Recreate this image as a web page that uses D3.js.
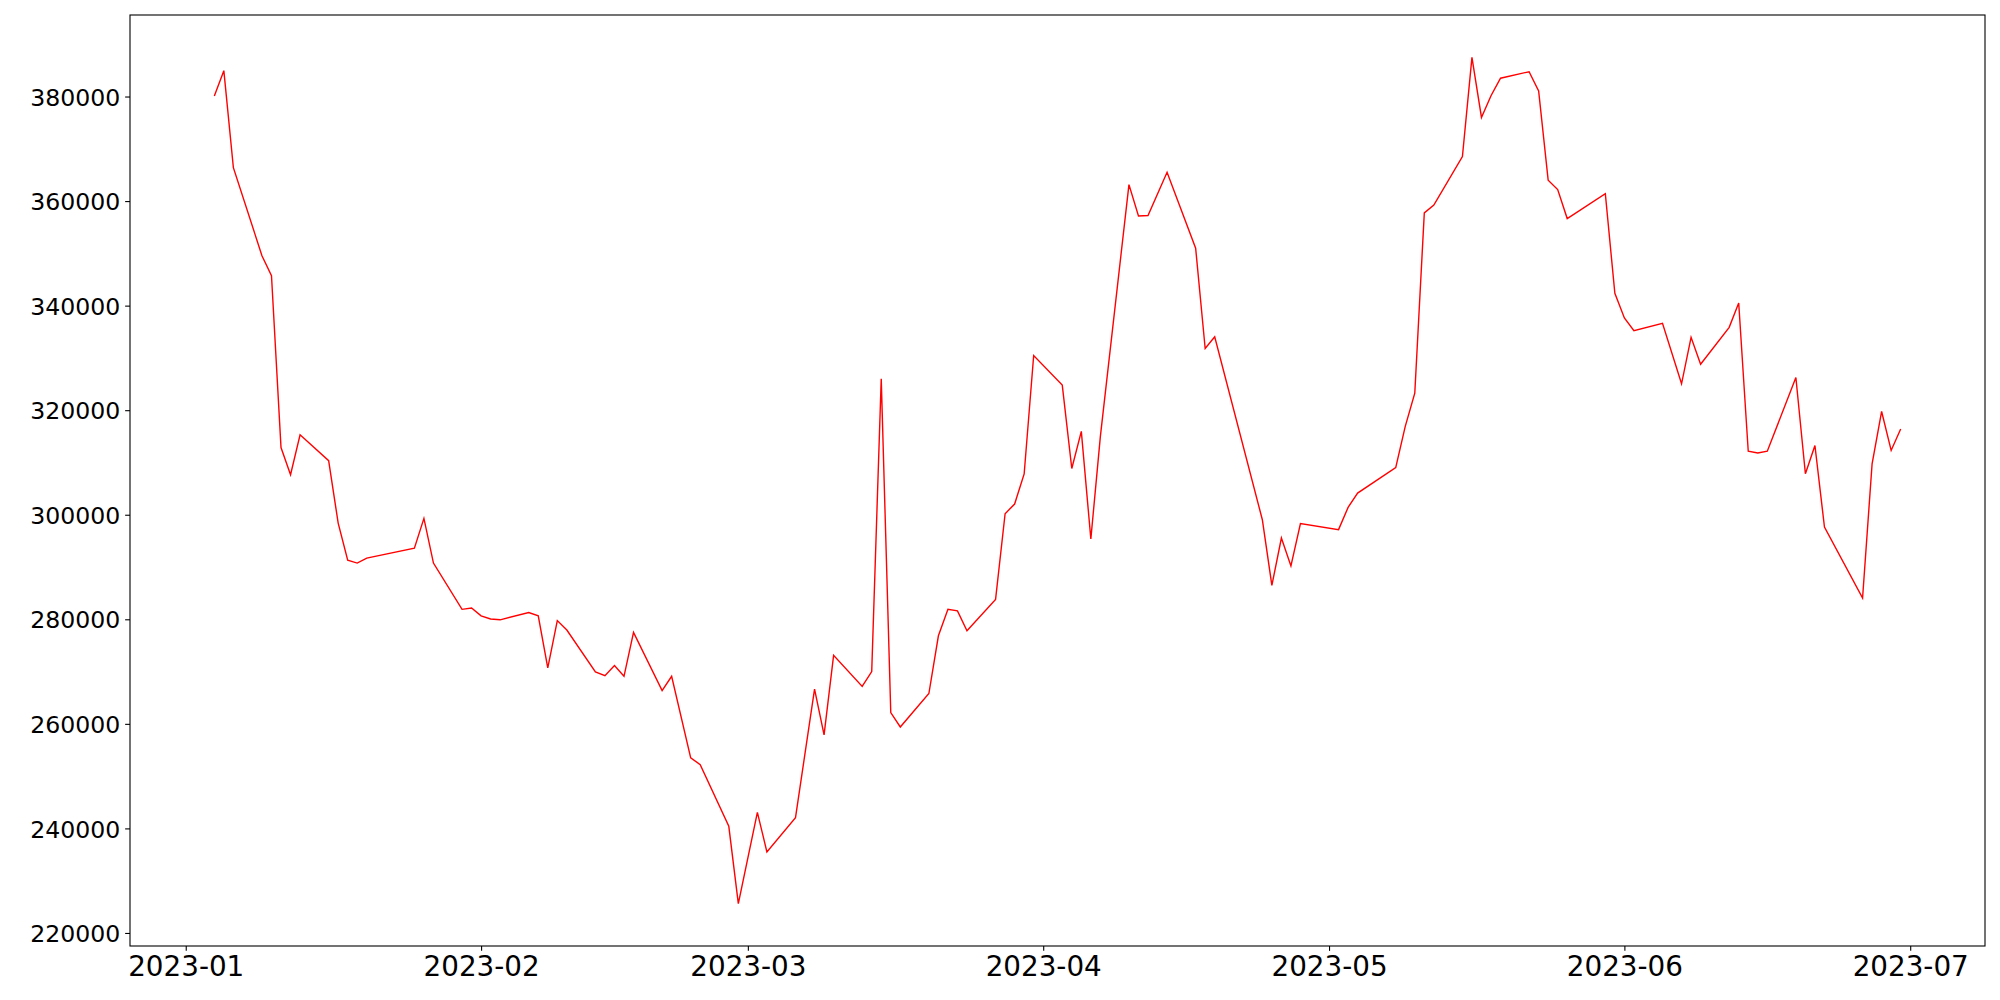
<!DOCTYPE html>
<html>
<head>
<meta charset="utf-8">
<script src="https://cdn.jsdelivr.net/npm/d3@7"></script>
<style>
    body { margin: 0; background: #fff; }
    text { font-family: "DejaVu Sans", sans-serif; }
</style>
</head>
<body>
<div id="chart"></div>
<script>
const width = 2000;
const height = 1000;
const margin = { top: 15, right: 15, bottom: 54, left: 130 };
const xFontSize = 27.8;
const yFontSize = 23.6;
const tickLen = 4.86;
const tickPad = 4.86;

// trading days (a few days are missing in the source)
const dates = [
    "2023-01-04", "2023-01-05", "2023-01-06", "2023-01-09", "2023-01-10", "2023-01-11", "2023-01-12", "2023-01-13",
    "2023-01-16", "2023-01-17", "2023-01-18", "2023-01-19", "2023-01-20", "2023-01-25", "2023-01-26", "2023-01-27",
    "2023-01-30", "2023-01-31", "2023-02-01", "2023-02-02", "2023-02-03", "2023-02-06", "2023-02-07", "2023-02-08",
    "2023-02-09", "2023-02-10", "2023-02-13", "2023-02-14", "2023-02-15", "2023-02-16", "2023-02-17", "2023-02-20",
    "2023-02-21", "2023-02-23", "2023-02-24", "2023-02-27", "2023-02-28", "2023-03-02", "2023-03-03", "2023-03-06",
    "2023-03-08", "2023-03-09", "2023-03-10", "2023-03-13", "2023-03-14", "2023-03-15", "2023-03-16", "2023-03-17",
    "2023-03-20", "2023-03-21", "2023-03-22", "2023-03-23", "2023-03-24", "2023-03-27", "2023-03-28", "2023-03-29",
    "2023-03-30", "2023-03-31", "2023-04-03", "2023-04-04", "2023-04-05", "2023-04-06", "2023-04-07", "2023-04-10",
    "2023-04-11", "2023-04-12", "2023-04-14", "2023-04-17", "2023-04-18", "2023-04-19", "2023-04-24", "2023-04-25",
    "2023-04-26", "2023-04-27", "2023-04-28", "2023-05-02", "2023-05-03", "2023-05-04", "2023-05-08", "2023-05-09",
    "2023-05-10", "2023-05-11", "2023-05-12", "2023-05-15", "2023-05-16", "2023-05-17", "2023-05-18", "2023-05-19",
    "2023-05-22", "2023-05-23", "2023-05-24", "2023-05-25", "2023-05-26", "2023-05-30", "2023-05-31", "2023-06-01",
    "2023-06-02", "2023-06-05", "2023-06-07", "2023-06-08", "2023-06-09", "2023-06-12", "2023-06-13", "2023-06-14",
    "2023-06-15", "2023-06-16", "2023-06-19", "2023-06-20", "2023-06-21", "2023-06-22", "2023-06-26", "2023-06-27",
    "2023-06-28", "2023-06-29", "2023-06-30"
];

const values = [
    380100, 384950, 366400, 349550, 345750, 312850, 307650, 315300,
    310350, 298400, 291300, 290750, 291700, 293600, 299300, 290750,
    281900, 282150, 280650, 280050, 279900, 281300, 280650, 270700,
    279750, 277950, 269950, 269200, 271150, 269100, 277500, 266350,
    269100, 253500, 252200, 240400, 225600, 243050, 235500, 242050,
    266650, 257900, 273100, 267150, 270000, 326000, 262150, 259400,
    265800, 276850, 281900, 281600, 277800, 283800, 300200, 302050,
    307800, 330450, 324800, 308850, 315950, 295350, 315000, 363150,
    357150, 357250, 365500, 351000, 331800, 334050, 299050, 286500,
    295550, 290200, 298300, 297150, 301400, 304150, 309000, 316900,
    323250, 357750, 359250, 368500, 387500, 376000, 380150, 383500,
    384750, 381050, 364000, 362200, 356650, 361400, 342350, 337650,
    335200, 336600, 325050, 333950, 328800, 335850, 340500, 312150,
    311800, 312150, 326250, 307850, 313250, 297650, 284050, 309750,
    319750, 312300, 316400
];

const parse = d3.utcParse("%Y-%m-%d");
const data = dates.map((d, i) => ({ date: parse(d), value: values[i] }));

// matplotlib style 5% margins around the data
const [t0, t1] = d3.extent(data, d => d.date);
const tPad = (t1 - t0) * 0.05;
const [v0, v1] = d3.extent(data, d => d.value);
const vPad = (v1 - v0) * 0.05;

const x = d3.scaleUtc()
    .domain([new Date(+t0 - tPad), new Date(+t1 + tPad)])
    .range([margin.left, width - margin.right]);

const y = d3.scaleLinear()
    .domain([v0 - vPad, v1 + vPad])
    .range([height - margin.bottom, margin.top]);

const svg = d3.select("#chart")
    .append("svg")
        .attr("width", width)
        .attr("height", height)
        .attr("viewBox", [0, 0, width, height]);

svg.append("rect")
    .attr("width", width)
    .attr("height", height)
    .attr("fill", "#fff");

svg.append("path")
    .datum(data)
    .attr("fill", "none")
    .attr("stroke", "#ff0000")
    .attr("stroke-width", 1.4)
    .attr("stroke-linejoin", "miter")
    .attr("d", d3.line()
        .x(d => x(d.date))
        .y(d => y(d.value)));

const xAxis = svg.append("g")
    .attr("transform", `translate(0,${height - margin.bottom})`)
    .call(d3.axisBottom(x)
        .ticks(d3.utcMonth.every(1))
        .tickFormat(d3.utcFormat("%Y-%m"))
        .tickSize(tickLen)
        .tickPadding(tickPad));

const yAxis = svg.append("g")
    .attr("transform", `translate(${margin.left},0)`)
    .call(d3.axisLeft(y)
        .ticks(8)
        .tickFormat(d3.format("d"))
        .tickSize(tickLen)
        .tickPadding(tickPad));

[xAxis, yAxis].forEach(g => {
    g.select(".domain").remove();
    g.selectAll(".tick line").attr("stroke", "#000").attr("stroke-width", 1.1);
    g.selectAll(".tick text")
        .attr("fill", "#000")
        .style("font-family", "'DejaVu Sans', sans-serif");
});

xAxis.selectAll(".tick text")
    .style("font-size", xFontSize + "px")
    .attr("dy", "0.74em");
yAxis.selectAll(".tick text")
    .style("font-size", yFontSize + "px")
    .attr("dy", "0.365em");

// axes frame
svg.append("rect")
    .attr("x", margin.left)
    .attr("y", margin.top)
    .attr("width", width - margin.left - margin.right)
    .attr("height", height - margin.top - margin.bottom)
    .attr("fill", "none")
    .attr("stroke", "#000")
    .attr("stroke-width", 1.1);
</script>
</body>
</html>
